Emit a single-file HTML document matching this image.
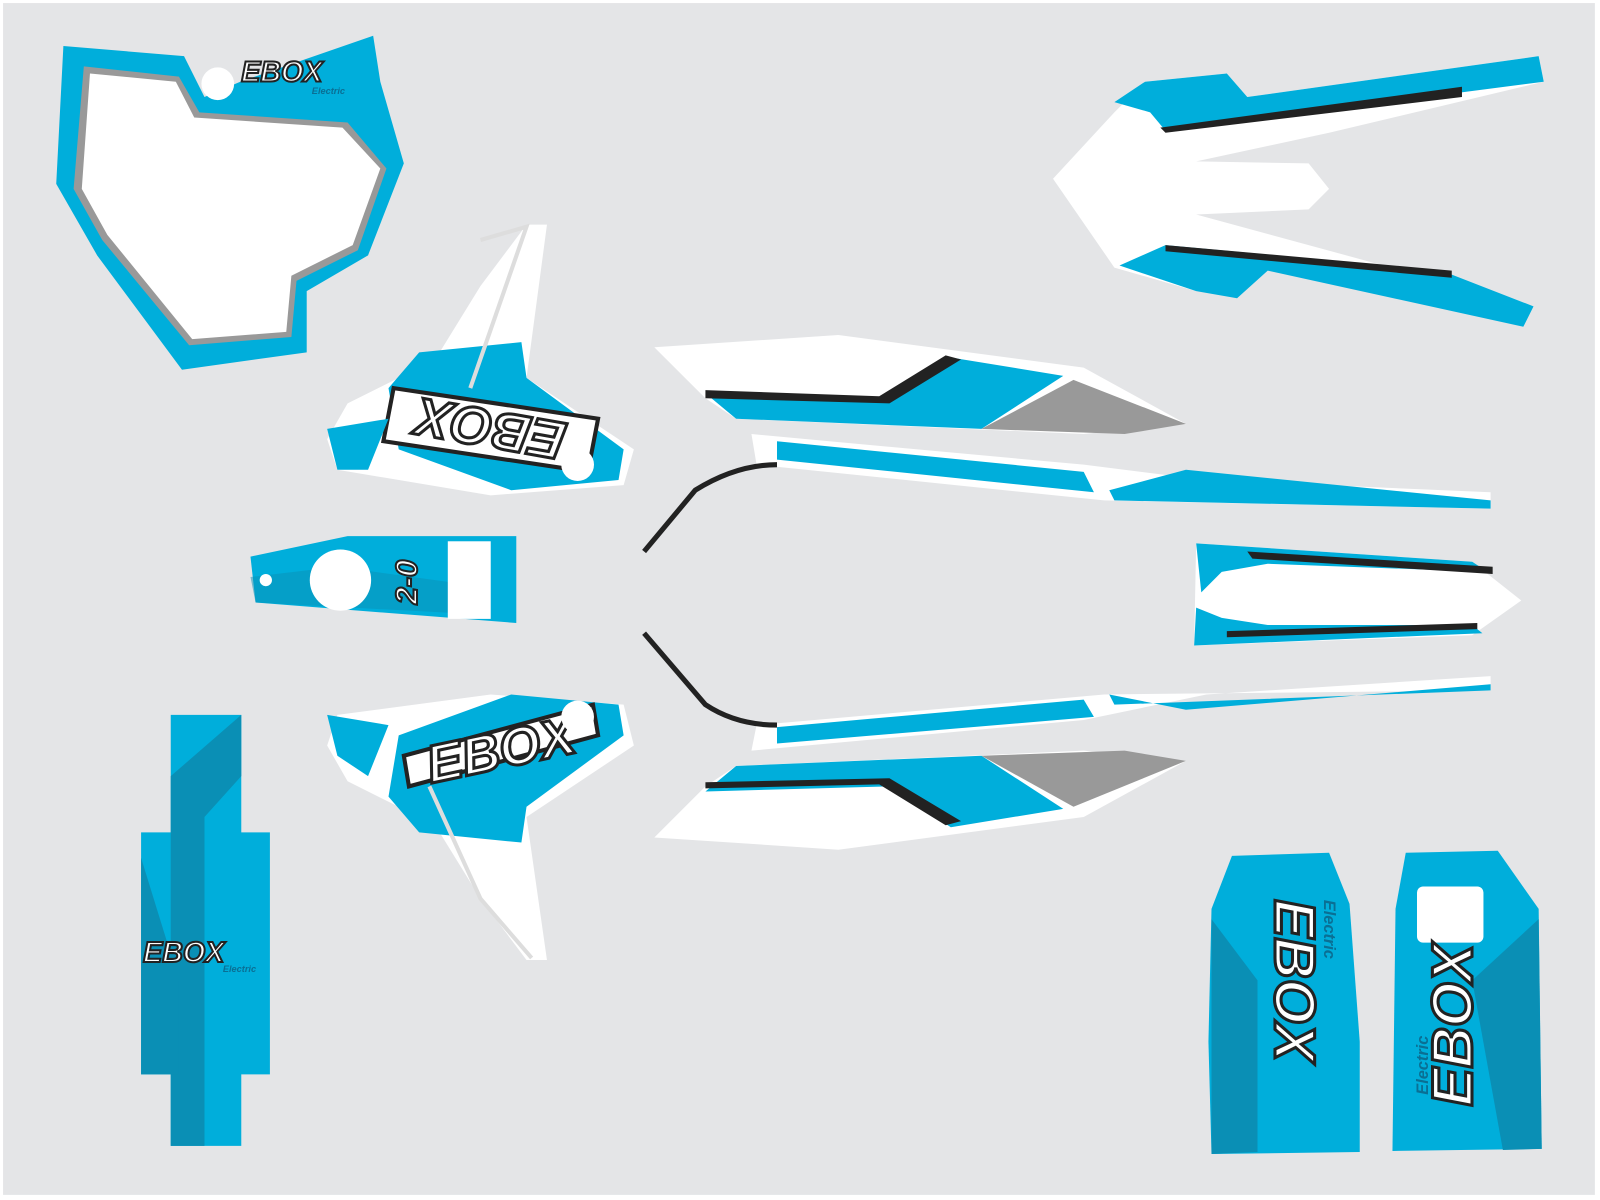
<!DOCTYPE html>
<html><head><meta charset="utf-8"><style>
html,body{margin:0;padding:0;background:#fff}
svg{display:block}
text{font-family:"Liberation Sans",sans-serif;font-weight:bold}
</style></head><body>
<svg width="1600" height="1200" viewBox="0 0 1565 1175" preserveAspectRatio="none" xmlns="http://www.w3.org/2000/svg">
<rect x="0" y="0" width="1565" height="1175" fill="#fff"/>
<rect x="3" y="3" width="1557" height="1167" fill="#e4e5e7"/>

<!-- Front number plate -->
<path d="M62,45 L180,55 L200,95 L235,80 L365,35 L372,80 L395,160 L360,250 L300,285 L300,345 L178,362 L95,250 L55,180 Z" fill="#00aedb"/>
<path d="M82,65 L175,75 L195,110 L340,120 L378,165 L350,245 L290,275 L285,330 L185,338 L100,235 L72,185 Z" fill="#999"/>
<path d="M88,72 L172,80 L190,115 L335,125 L372,165 L345,240 L285,270 L280,325 L188,332 L105,230 L80,185 Z" fill="#fff"/>
<circle cx="213" cy="82" r="16" fill="#fff"/>
<text x="236" y="80" font-size="28" font-style="italic" fill="#fff" stroke="#222" stroke-width="2">EBOX</text>
<text x="305" y="92" font-size="9" font-style="italic" fill="#0a6f94">Electric</text>

<!-- Rear fender top right -->
<path d="M1030,175 L1090,110 L1120,80 L1200,72 L1220,95 L1505,55 L1510,80 L1300,130 L1170,158 L1280,160 L1300,185 L1280,205 L1170,210 L1500,300 L1490,320 L1240,255 L1210,290 L1170,285 L1090,262 Z" fill="#fff"/>
<path d="M1090,100 L1120,80 L1200,72 L1220,95 L1505,55 L1510,80 L1140,128 L1125,110 Z" fill="#00aedb"/>
<path d="M1135,125 L1430,85 L1430,95 L1140,130 Z" fill="#222"/>
<path d="M1095,260 L1140,240 L1410,265 L1500,300 L1490,320 L1240,265 L1210,292 L1170,285 Z" fill="#00aedb"/>
<path d="M1140,240 L1420,265 L1420,272 L1140,246 Z" fill="#222"/>

<!-- Left radiator shroud top -->
<path d="M515,220 L535,220 L515,370 L620,440 L610,475 L480,485 L330,460 L320,430 L340,395 L390,370 L430,345 L470,280 Z" fill="#fff"/>
<path d="M410,345 L510,335 L515,370 L610,440 L605,470 L500,480 L390,440 L380,380 Z" fill="#00aedb"/>
<path d="M385,380 L585,410 L575,462 L375,432 Z" fill="#fff" stroke="#222" stroke-width="4"/>
<text x="480" y="438" text-anchor="middle" font-size="52" font-style="italic" fill="#fff" stroke="#222" stroke-width="3" transform="rotate(190 480 420)">EBOX</text>
<circle cx="565" cy="455" r="16" fill="#fff"/>
<path d="M320,420 L380,410 L360,460 L330,460 Z" fill="#00aedb"/>
<path d="M470,235 L515,222 L460,380" fill="none" stroke="#ddd" stroke-width="4"/>

<!-- Left radiator shroud bottom -->
<path d="M515,940 L535,940 L515,800 L620,730 L610,690 L480,680 L330,700 L320,730 L340,765 L390,790 L430,815 L470,880 Z" fill="#fff"/>
<path d="M410,815 L510,825 L515,790 L610,720 L605,690 L500,680 L390,720 L380,780 Z" fill="#00aedb"/>
<path d="M395,740 L580,690 L585,720 L400,770 Z" fill="#fff" stroke="#222" stroke-width="4"/>
<text x="490" y="752" text-anchor="middle" font-size="52" font-style="italic" fill="#fff" stroke="#222" stroke-width="3" transform="rotate(-12 490 735)">EBOX</text>
<circle cx="565" cy="702" r="16" fill="#fff"/>
<path d="M320,700 L380,710 L360,760 L330,740 Z" fill="#00aedb"/>
<path d="M420,770 L470,880 L520,938" fill="none" stroke="#ddd" stroke-width="4"/>

<!-- small plate 2.0 -->
<path d="M245,545 L340,525 L505,525 L505,610 L250,590 Z" fill="#00aedb"/>
<path d="M245,565 L330,555 L440,570 L440,600 L250,590 Z" fill="#0a8fb5" opacity=".5"/>
<circle cx="333" cy="568" r="30" fill="#fff"/>
<circle cx="260" cy="568" r="6" fill="#fff"/>
<rect x="438" y="530" width="42" height="76" fill="#fff"/>
<text x="398" y="580" text-anchor="middle" font-size="30" font-style="italic" fill="#fff" stroke="#222" stroke-width="2" transform="rotate(-90 398 570)">2-0</text>

<!-- Side panels top -->
<path d="M640,340 L820,328 L1060,360 L1160,415 L1060,425 L720,410 L690,390 Z" fill="#fff"/>
<path d="M690,385 L870,390 L930,350 L1040,368 L960,420 L720,410 Z" fill="#00aedb"/>
<path d="M690,382 L860,388 L925,348 L940,352 L870,395 L690,390 Z" fill="#222"/>
<path d="M960,420 L1050,372 L1160,415 L1100,425 Z" fill="#999"/>
<path d="M735,425 L1060,455 L1180,470 L1458,482 L1458,498 L1080,490 L740,455 Z" fill="#fff"/>
<path d="M760,432 L1060,462 L1070,482 L760,450 Z" fill="#00aedb"/>
<path d="M1085,480 L1160,460 L1458,490 L1458,498 L1090,490 Z" fill="#00aedb"/>
<path d="M630,540 L680,480 Q720,455 760,455" fill="none" stroke="#222" stroke-width="5"/>

<!-- Side panels bottom -->
<path d="M640,820 L820,832 L1060,800 L1160,745 L1060,735 L720,750 L690,770 Z" fill="#fff"/>
<path d="M690,775 L870,770 L930,810 L1040,792 L960,740 L720,750 Z" fill="#00aedb"/>
<path d="M690,772 L860,768 L925,808 L940,804 L870,762 L690,766 Z" fill="#222"/>
<path d="M960,740 L1050,790 L1160,745 L1100,735 Z" fill="#999"/>
<path d="M735,735 L1060,705 L1180,680 L1458,662 L1458,676 L1080,680 L740,710 Z" fill="#fff"/>
<path d="M760,712 L1060,685 L1070,702 L760,728 Z" fill="#00aedb"/>
<path d="M1085,680 L1160,695 L1458,670 L1458,676 L1090,690 Z" fill="#00aedb"/>
<path d="M630,620 L690,690 Q720,710 760,710" fill="none" stroke="#222" stroke-width="5"/>

<!-- Front fender -->
<path d="M1170,532 L1440,550 L1488,588 L1440,622 L1168,632 Z" fill="#fff"/>
<path d="M1170,532 L1440,550 L1455,560 L1240,552 L1195,560 L1175,580 Z" fill="#00aedb"/>
<path d="M1168,632 L1450,620 L1440,612 L1240,612 L1195,605 L1170,595 Z" fill="#00aedb"/>
<path d="M1220,540 L1460,555 L1460,562 L1225,547 Z" fill="#222"/>
<path d="M1200,618 L1445,610 L1445,616 L1200,624 Z" fill="#222"/>

<!-- Left tall strip -->
<path d="M167,700 L236,700 L236,815 L264,815 L264,1052 L236,1052 L236,1122 L167,1122 L167,1052 L138,1052 L138,815 L167,815 Z" fill="#00aedb"/>
<path d="M167,760 L236,700 L236,760 L200,800 L200,1122 L167,1122 Z" fill="#0a8fb5"/>
<path d="M138,840 L175,960 L175,1052 L138,1052 Z" fill="#0a8fb5"/>
<text x="140" y="942" font-size="28" font-style="italic" fill="#fff" stroke="#222" stroke-width="2">EBOX</text>
<text x="218" y="952" font-size="9" font-style="italic" fill="#0a6f94">Electric</text>

<!-- fork guards -->
<path d="M1205,838 L1300,835 L1320,885 L1330,1020 L1330,1128 L1185,1130 L1182,1020 L1185,890 Z" fill="#00aedb"/>
<path d="M1185,900 L1230,960 L1230,1128 L1185,1130 Z" fill="#0a8fb5"/>
<path d="M1375,835 L1465,833 L1505,890 L1508,1125 L1362,1127 L1365,890 Z" fill="#00aedb"/>
<path d="M1440,960 L1505,900 L1508,1125 L1470,1126 Z" fill="#0a8fb5"/>
<rect x="1386" y="868" width="65" height="55" rx="6" fill="#fff"/>
<text x="1265" y="978" text-anchor="middle" font-size="56" font-style="italic" fill="#fff" stroke="#222" stroke-width="3" transform="rotate(90 1265 960)">EBOX</text>
<text x="1422" y="1022" text-anchor="middle" font-size="56" font-style="italic" fill="#fff" stroke="#222" stroke-width="3" transform="rotate(-90 1422 1004)">EBOX</text>
<text x="1300" y="915" text-anchor="middle" font-size="16" font-style="italic" fill="#0a6f94" transform="rotate(90 1300 910)">Electric</text>
<text x="1392" y="1048" text-anchor="middle" font-size="16" font-style="italic" fill="#0a6f94" transform="rotate(-90 1392 1043)">Electric</text>
</svg>
</body></html>
